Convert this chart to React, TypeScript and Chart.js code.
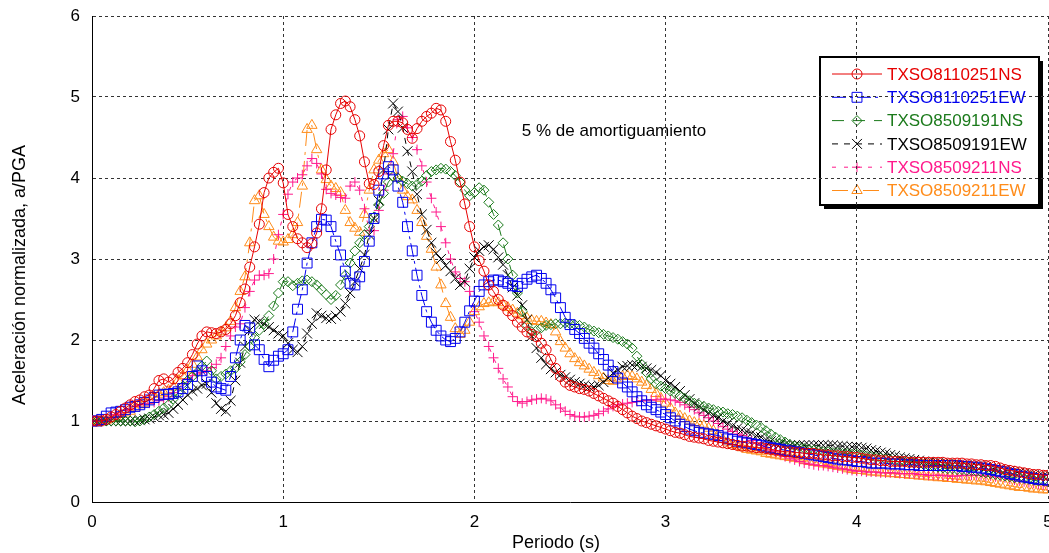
import React, { useEffect, useRef } from 'react';
import { Chart, registerables } from 'chart.js';
import { drawPoint } from 'chart.js/helpers';

Chart.register(...registerables);

const FONT = 'Arial, "Liberation Sans", Helvetica, sans-serif';

// Periods (s), one row = 0.2 s
const periods = [
  0, 0.025, 0.05, 0.075, 0.1, 0.125, 0.15, 0.175,
  0.2, 0.225, 0.25, 0.275, 0.3, 0.325, 0.35, 0.375,
  0.4, 0.425, 0.45, 0.475, 0.5, 0.525, 0.55, 0.575,
  0.6, 0.625, 0.65, 0.675, 0.7, 0.725, 0.75, 0.775,
  0.8, 0.825, 0.85, 0.875, 0.9, 0.925, 0.95, 0.975,
  1.0, 1.025, 1.05, 1.075, 1.1, 1.125, 1.15, 1.175,
  1.2, 1.225, 1.25, 1.275, 1.3, 1.325, 1.35, 1.375,
  1.4, 1.425, 1.45, 1.475, 1.5, 1.525, 1.55, 1.575,
  1.6, 1.625, 1.65, 1.675, 1.7, 1.725, 1.75, 1.775,
  1.8, 1.825, 1.85, 1.875, 1.9, 1.925, 1.95, 1.975,
  2.0, 2.025, 2.05, 2.075, 2.1, 2.125, 2.15, 2.175,
  2.2, 2.225, 2.25, 2.275, 2.3, 2.325, 2.35, 2.375,
  2.4, 2.425, 2.45, 2.475, 2.5, 2.525, 2.55, 2.575,
  2.6, 2.625, 2.65, 2.675, 2.7, 2.725, 2.75, 2.775,
  2.8, 2.825, 2.85, 2.875, 2.9, 2.925, 2.95, 2.975,
  3.0, 3.025, 3.05, 3.075, 3.1, 3.125, 3.15, 3.175,
  3.2, 3.225, 3.25, 3.275, 3.3, 3.325, 3.35, 3.375,
  3.4, 3.425, 3.45, 3.475, 3.5, 3.525, 3.55, 3.575,
  3.6, 3.625, 3.65, 3.675, 3.7, 3.725, 3.75, 3.775,
  3.8, 3.825, 3.85, 3.875, 3.9, 3.925, 3.95, 3.975,
  4.0, 4.025, 4.05, 4.075, 4.1, 4.125, 4.15, 4.175,
  4.2, 4.225, 4.25, 4.275, 4.3, 4.325, 4.35, 4.375,
  4.4, 4.425, 4.45, 4.475, 4.5, 4.525, 4.55, 4.575,
  4.6, 4.625, 4.65, 4.675, 4.7, 4.725, 4.75, 4.775,
  4.8, 4.825, 4.85, 4.875, 4.9, 4.925, 4.95, 4.975,
  5.0,
];

const txso8110251NS = [
  1.0, 1.0, 1.0, 1.02, 1.05, 1.08, 1.12, 1.16,
  1.2, 1.24, 1.26, 1.3, 1.32, 1.4, 1.5, 1.52,
  1.48, 1.52, 1.6, 1.65, 1.72, 1.82, 1.95, 2.05,
  2.1, 2.09, 2.08, 2.1, 2.13, 2.2, 2.3, 2.46,
  2.63, 2.9, 3.15, 3.43, 3.82, 4.0, 4.07, 4.12,
  3.94, 3.55, 3.4, 3.25, 3.2, 3.14, 3.19, 3.32,
  3.62, 4.1, 4.6, 4.78, 4.92, 4.95, 4.88, 4.72,
  4.52, 4.2, 3.93, 3.92, 4.08, 4.4, 4.65, 4.7,
  4.7, 4.68, 4.6, 4.49, 4.61, 4.7, 4.76, 4.8,
  4.86, 4.84, 4.7, 4.45, 4.22, 3.95, 3.68, 3.4,
  3.15, 2.98, 2.85, 2.68, 2.6, 2.5, 2.43, 2.36,
  2.3, 2.22, 2.16, 2.1, 2.07, 2.04, 1.96, 1.88,
  1.76, 1.65, 1.55, 1.48, 1.44, 1.42, 1.4, 1.39,
  1.37, 1.34, 1.31, 1.28, 1.25, 1.22, 1.18, 1.14,
  1.1, 1.06, 1.03, 1.0, 0.98, 0.96, 0.94, 0.92,
  0.9, 0.88, 0.86, 0.85, 0.83, 0.81, 0.8, 0.79,
  0.78, 0.76, 0.75, 0.74, 0.73, 0.72, 0.71, 0.7,
  0.69, 0.69, 0.68, 0.67, 0.67, 0.66, 0.65, 0.64,
  0.63, 0.62, 0.62, 0.61, 0.61, 0.6, 0.6, 0.6,
  0.59, 0.58, 0.58, 0.57, 0.57, 0.56, 0.56, 0.55,
  0.55, 0.54, 0.53, 0.52, 0.52, 0.51, 0.51, 0.5,
  0.5, 0.5, 0.5, 0.49, 0.49, 0.49, 0.49, 0.49,
  0.49, 0.49, 0.49, 0.48, 0.48, 0.48, 0.48, 0.47,
  0.47, 0.46, 0.46, 0.45, 0.45, 0.44, 0.42, 0.4,
  0.39, 0.38, 0.37, 0.36, 0.35, 0.34, 0.34, 0.33,
  0.33,
];

const txso8110251EW = [
  1.0, 1.0, 1.02, 1.06, 1.1, 1.11, 1.12, 1.14,
  1.17, 1.18, 1.2, 1.23, 1.26, 1.29, 1.32, 1.33,
  1.33, 1.34, 1.36, 1.4, 1.45, 1.55, 1.68, 1.62,
  1.55, 1.48, 1.42, 1.4, 1.38, 1.55, 1.78, 2.0,
  2.18, 2.15, 1.94, 1.88, 1.76, 1.67, 1.75, 1.8,
  1.83, 1.88, 2.1, 2.38, 2.62, 2.95, 3.2, 3.4,
  3.49, 3.48, 3.4, 3.22, 3.05, 2.85, 2.7, 2.68,
  2.78, 2.97, 3.22, 3.5, 3.85, 4.05, 4.14, 4.1,
  3.9, 3.7, 3.4, 3.1, 2.8, 2.55, 2.35, 2.22,
  2.12, 2.05, 2.0, 1.98, 2.02, 2.1, 2.22, 2.36,
  2.48, 2.6, 2.68, 2.72, 2.74, 2.74, 2.72, 2.7,
  2.67, 2.66, 2.7, 2.75, 2.78, 2.8, 2.76, 2.7,
  2.62, 2.52, 2.4, 2.28, 2.19, 2.13, 2.08, 2.02,
  1.96, 1.9, 1.83, 1.76, 1.69, 1.61, 1.53, 1.47,
  1.42, 1.36, 1.3, 1.25, 1.2, 1.17, 1.14, 1.11,
  1.08, 1.04, 1.0, 0.96, 0.93, 0.9, 0.88, 0.86,
  0.85, 0.84, 0.83, 0.82, 0.8, 0.78, 0.77, 0.75,
  0.74, 0.73, 0.72, 0.71, 0.7, 0.68, 0.67, 0.66,
  0.65, 0.64, 0.63, 0.62, 0.61, 0.6, 0.59, 0.58,
  0.57, 0.56, 0.55, 0.54, 0.53, 0.52, 0.52, 0.51,
  0.5, 0.5, 0.49, 0.48, 0.48, 0.48, 0.48, 0.47,
  0.47, 0.47, 0.46, 0.46, 0.46, 0.45, 0.45, 0.45,
  0.45, 0.45, 0.45, 0.45, 0.45, 0.45, 0.44, 0.44,
  0.43, 0.43, 0.42, 0.41, 0.4, 0.39, 0.38, 0.37,
  0.35, 0.34, 0.32, 0.31, 0.3, 0.29, 0.28, 0.28,
  0.27,
];

const txso8509191NS = [
  1.0, 1.0, 1.0, 1.0, 1.0, 1.0, 1.0, 1.0,
  1.0, 0.99, 1.0, 1.02, 1.05, 1.08, 1.12, 1.16,
  1.2, 1.27, 1.35, 1.43, 1.5, 1.55, 1.6, 1.68,
  1.74, 1.62, 1.52, 1.55, 1.58, 1.62, 1.65, 1.73,
  1.82, 1.92, 2.03, 2.12, 2.2, 2.3, 2.42, 2.58,
  2.72, 2.72, 2.67, 2.7, 2.73, 2.74, 2.72, 2.68,
  2.62, 2.56, 2.5, 2.55, 2.68, 2.8, 2.95, 3.1,
  3.2, 3.3, 3.4, 3.52, 3.67, 3.81, 3.95, 4.02,
  4.0, 3.96, 3.93, 3.9, 3.92, 3.96, 4.03, 4.08,
  4.1, 4.12, 4.11, 4.08, 4.03, 3.95, 3.85, 3.78,
  3.82, 3.88, 3.85, 3.7, 3.55, 3.42, 3.2, 3.0,
  2.8, 2.58, 2.35, 2.18, 2.1, 2.12, 2.15, 2.18,
  2.19, 2.2, 2.2, 2.21, 2.2, 2.19, 2.18, 2.16,
  2.13, 2.11, 2.09, 2.07, 2.05, 2.03, 2.01, 1.98,
  1.95, 1.9, 1.8, 1.7, 1.6, 1.52, 1.46, 1.43,
  1.4, 1.37, 1.34, 1.31, 1.28, 1.25, 1.22, 1.2,
  1.18, 1.16, 1.14, 1.12, 1.11, 1.09, 1.08, 1.06,
  1.04, 1.01, 0.98, 0.95, 0.92, 0.88, 0.84, 0.8,
  0.77, 0.74, 0.71, 0.69, 0.68, 0.66, 0.65, 0.64,
  0.63, 0.62, 0.62, 0.61, 0.61, 0.6, 0.6, 0.59,
  0.59, 0.58, 0.57, 0.56, 0.55, 0.54, 0.53, 0.52,
  0.51, 0.5, 0.5, 0.49, 0.48, 0.47, 0.46, 0.45,
  0.44, 0.43, 0.42, 0.41, 0.41, 0.4, 0.4, 0.39,
  0.39, 0.38, 0.37, 0.36, 0.35, 0.34, 0.33, 0.32,
  0.31, 0.3, 0.3, 0.29, 0.28, 0.27, 0.26, 0.26,
  0.25,
];

const txso8509191EW = [
  1.0, 1.0, 1.0, 1.0, 1.0, 1.0, 1.0, 1.0,
  1.0, 1.0, 1.01, 1.02, 1.03, 1.05, 1.07, 1.08,
  1.1, 1.15, 1.2, 1.26, 1.32, 1.37, 1.4, 1.44,
  1.46, 1.35, 1.22, 1.15, 1.12, 1.25, 1.5, 1.72,
  1.92, 2.12, 2.25, 2.23, 2.2, 2.16, 2.12, 2.08,
  2.05, 1.96, 1.88, 1.85, 1.92, 2.08, 2.2, 2.33,
  2.3, 2.27, 2.26, 2.3, 2.35, 2.45, 2.58, 2.72,
  2.88, 3.05, 3.3, 3.5, 3.72, 4.1, 4.6, 4.92,
  4.82, 4.62, 4.33, 4.08, 3.8, 3.55, 3.36, 3.2,
  3.07, 3.0, 2.92, 2.85, 2.76, 2.68, 2.72, 2.88,
  3.02, 3.1, 3.15, 3.17, 3.12, 3.02, 2.93, 2.8,
  2.65, 2.55, 2.43, 2.25, 2.05, 1.9, 1.78, 1.7,
  1.64, 1.6, 1.57, 1.54, 1.51, 1.48, 1.46, 1.44,
  1.42, 1.42, 1.44, 1.48, 1.53, 1.59, 1.63, 1.67,
  1.68, 1.69, 1.69, 1.67, 1.65, 1.63, 1.6, 1.56,
  1.5, 1.46, 1.42, 1.37, 1.32, 1.27, 1.22, 1.18,
  1.14, 1.1, 1.07, 1.04, 1.0, 0.97, 0.94, 0.91,
  0.89, 0.87, 0.85, 0.82, 0.8, 0.77, 0.75, 0.73,
  0.72, 0.71, 0.7, 0.7, 0.7, 0.7, 0.7, 0.7,
  0.7, 0.7, 0.7, 0.7, 0.69, 0.69, 0.68, 0.68,
  0.68, 0.67, 0.66, 0.64, 0.63, 0.61, 0.6, 0.58,
  0.57, 0.55, 0.54, 0.53, 0.52, 0.51, 0.5, 0.49,
  0.48, 0.48, 0.47, 0.47, 0.46, 0.46, 0.45, 0.45,
  0.44, 0.44, 0.44, 0.43, 0.42, 0.41, 0.4, 0.39,
  0.38, 0.37, 0.36, 0.35, 0.34, 0.33, 0.32, 0.32,
  0.31,
];

const txso8509211NS = [
  1.0, 1.0, 1.0, 1.02, 1.05, 1.08, 1.1, 1.13,
  1.15, 1.18, 1.2, 1.21, 1.22, 1.23, 1.25, 1.27,
  1.3, 1.35, 1.4, 1.46, 1.52, 1.56, 1.58, 1.6,
  1.62, 1.66, 1.7, 1.78, 1.92, 2.05, 2.16, 2.2,
  2.4, 2.6, 2.74, 2.8, 2.8, 2.82, 3.0, 3.3,
  3.55, 3.8, 3.95, 4.0, 4.04, 4.15, 4.24, 4.18,
  4.05, 3.86, 3.81, 3.79, 3.76, 3.75, 3.9, 3.95,
  3.85, 3.62, 3.35, 3.35, 3.6, 3.85, 4.05, 4.3,
  4.72, 4.76, 4.62, 4.5, 4.35, 4.15, 3.95, 3.75,
  3.58, 3.4, 3.2, 3.0, 2.84, 2.76, 2.72, 2.6,
  2.35, 2.22, 2.05, 1.92, 1.78, 1.65, 1.52, 1.42,
  1.3, 1.24, 1.22, 1.24, 1.26, 1.27, 1.28, 1.27,
  1.25, 1.2, 1.16, 1.12, 1.08, 1.06, 1.05, 1.05,
  1.06, 1.07, 1.09, 1.12, 1.15, 1.18, 1.2, 1.21,
  1.22, 1.23, 1.24, 1.25, 1.25, 1.26, 1.26, 1.27,
  1.27, 1.26, 1.25, 1.23, 1.2, 1.17, 1.14, 1.1,
  1.07, 1.04, 1.0, 0.97, 0.93, 0.9, 0.87, 0.84,
  0.82, 0.79, 0.76, 0.73, 0.7, 0.67, 0.64, 0.62,
  0.59, 0.56, 0.54, 0.52, 0.5, 0.48, 0.47, 0.46,
  0.45, 0.45, 0.44, 0.43, 0.42, 0.41, 0.4, 0.39,
  0.38, 0.38, 0.37, 0.37, 0.37, 0.36, 0.36, 0.36,
  0.36, 0.35, 0.35, 0.35, 0.35, 0.34, 0.34, 0.33,
  0.33, 0.33, 0.33, 0.32, 0.32, 0.32, 0.33, 0.33,
  0.33, 0.33, 0.33, 0.32, 0.32, 0.31, 0.31, 0.3,
  0.28, 0.27, 0.26, 0.25, 0.24, 0.23, 0.22, 0.21,
  0.2,
];

const txso8509211EW = [
  1.0, 1.0, 1.0, 1.01, 1.03, 1.05, 1.08, 1.1,
  1.12, 1.16, 1.2, 1.22, 1.25, 1.3, 1.33, 1.35,
  1.38, 1.42, 1.5, 1.56, 1.63, 1.7, 1.79, 1.88,
  1.95, 2.0, 2.05, 2.1, 2.15, 2.23, 2.4, 2.6,
  2.78, 3.2, 3.72, 3.78, 3.55, 3.4, 3.27, 3.22,
  3.21, 3.24, 3.3, 3.45, 3.9, 4.6, 4.65, 4.35,
  4.1, 3.98, 3.9, 3.87, 3.82, 3.6, 3.45, 3.38,
  3.33, 3.55, 3.85, 4.1, 4.22, 4.3, 4.35, 4.2,
  4.0, 3.85, 3.77, 3.73, 3.6, 3.45, 3.28, 3.12,
  2.9, 2.68, 2.45, 2.28, 2.14, 2.07, 2.12, 2.22,
  2.35, 2.41, 2.45, 2.46, 2.47, 2.46, 2.43, 2.4,
  2.37, 2.33, 2.3, 2.27, 2.24, 2.23, 2.23, 2.21,
  2.19, 2.1, 1.98, 1.9, 1.83, 1.77, 1.72, 1.68,
  1.64, 1.6, 1.56, 1.53, 1.5, 1.49, 1.52, 1.55,
  1.56, 1.55, 1.52, 1.48, 1.44, 1.39, 1.34, 1.28,
  1.22, 1.16, 1.1, 1.06, 1.03, 1.0, 0.98, 0.96,
  0.94, 0.91, 0.88, 0.83, 0.77, 0.74, 0.71, 0.69,
  0.67, 0.65, 0.64, 0.63, 0.62, 0.6, 0.59, 0.58,
  0.57, 0.56, 0.55, 0.54, 0.53, 0.51, 0.5, 0.49,
  0.48, 0.47, 0.46, 0.45, 0.44, 0.43, 0.41, 0.4,
  0.39, 0.39, 0.38, 0.37, 0.37, 0.36, 0.36, 0.35,
  0.35, 0.34, 0.34, 0.33, 0.33, 0.32, 0.32, 0.31,
  0.31, 0.3, 0.3, 0.29, 0.29, 0.28, 0.28, 0.27,
  0.27, 0.26, 0.26, 0.25, 0.24, 0.23, 0.22, 0.21,
  0.2, 0.19, 0.18, 0.18, 0.17, 0.16, 0.16, 0.15,
  0.15,
];

const seriesNames = [
  'TXSO8110251NS',
  'TXSO8110251EW',
  'TXSO8509191NS',
  'TXSO8509191EW',
  'TXSO8509211NS',
  'TXSO8509211EW',
];
const seriesValues = [
  txso8110251NS,
  txso8110251EW,
  txso8509191NS,
  txso8509191EW,
  txso8509211NS,
  txso8509211EW,
];

const xTicks = [0, 1, 2, 3, 4, 5];
const yTicks = [0, 1, 2, 3, 4, 5, 6];

const xTitle = 'Periodo (s)';
const yTitle = 'Aceleración normalizada, a/PGA';
const annotationText = '5 % de amortiguamiento';

const styles = [
  { color: '#e60000', point: 'circle', radius: 5, dash: [] as number[] },
  { color: '#0000ee', point: 'rect', radius: 7, dash: [14, 4, 3, 4] },
  { color: '#1b7a1b', point: 'rectRot', radius: 5, dash: [12, 9] },
  { color: '#000000', point: 'crossRot', radius: 7, dash: [6, 6] },
  { color: '#ff1a8c', point: 'cross', radius: 5, dash: [4, 8] },
  { color: '#ff8c1a', point: 'triangle', radius: 6, dash: [16, 6, 3, 6] },
];

const TARGET_RIGHT = 1048;

const boxLegendPlugin = {
  id: 'boxLegend',
  beforeDraw(chart: any) {
    const ctx: CanvasRenderingContext2D = chart.ctx;
    const x0 = 820;
    const y0 = 57;
    const w = 219;
    const h = 148;
    ctx.save();
    ctx.fillStyle = '#000';
    ctx.fillRect(x0 + 4, y0 + 4, w, h);
    ctx.fillStyle = '#fff';
    ctx.fillRect(x0, y0, w, h);
    ctx.lineWidth = 2;
    ctx.strokeStyle = '#000';
    ctx.strokeRect(x0, y0, w, h);
    chart.data.datasets.forEach((ds: any, i: number) => {
      const y = y0 + 17 + i * 23.3;
      ctx.lineWidth = 1;
      ctx.strokeStyle = ds.borderColor;
      ctx.setLineDash(ds.borderDash || []);
      ctx.beginPath();
      ctx.moveTo(832, y);
      ctx.lineTo(882, y);
      ctx.stroke();
      ctx.setLineDash([]);
      ctx.fillStyle = 'rgba(0,0,0,0)';
      drawPoint(ctx, { pointStyle: ds.pointStyle, radius: ds.pointRadius, borderWidth: 1, rotation: 0 } as any, 857, y);
      ctx.fillStyle = ds.borderColor;
      ctx.font = `17px ${FONT}`;
      ctx.textBaseline = 'middle';
      ctx.textAlign = 'left';
      ctx.fillText(ds.label, 887, y + 1);
    });
    ctx.restore();
  },
  afterDraw(chart: any) {
    const ctx: CanvasRenderingContext2D = chart.ctx;
    const xs = chart.scales.x;
    const ys = chart.scales.y;
    ctx.save();
    ctx.fillStyle = '#000';
    ctx.font = `17px ${FONT}`;
    ctx.textAlign = 'center';
    ctx.textBaseline = 'middle';
    ctx.fillText(annotationText, xs.getPixelForValue(2.73), ys.getPixelForValue(4.58));
    // axis titles
    ctx.font = `18px ${FONT}`;
    ctx.fillText(xTitle, 556, 543);
    ctx.translate(20, 275);
    ctx.rotate(-Math.PI / 2);
    ctx.fillText(yTitle, 0, 0);
    ctx.restore();
  },
};

export default function App() {
  const ref = useRef<HTMLCanvasElement>(null);
  useEffect(() => {
    if (!ref.current) return;
    const datasets = seriesValues.map((vals, i) => ({
      label: seriesNames[i],
      data: periods.map((t, j) => ({ x: t, y: vals[j] })),
      borderColor: styles[i].color,
      backgroundColor: 'rgba(0,0,0,0)',
      borderWidth: 1,
      borderDash: styles[i].dash,
      pointStyle: styles[i].point,
      pointRadius: styles[i].radius,
      pointBorderWidth: 1,
      pointBorderColor: styles[i].color,
      pointBackgroundColor: 'rgba(0,0,0,0)',
      tension: 0,
      fill: false,
    }));
    const tickFont = { family: FONT, size: 17 };
    const chart = new Chart(ref.current, {
      type: 'line',
      data: { datasets: datasets as any },
      options: {
        animation: false,
        responsive: false,
        maintainAspectRatio: false,
        events: [],
        layout: { padding: { left: 0, right: 1, top: 16, bottom: 0 } },
        plugins: { legend: { display: false }, tooltip: { enabled: false } },
        scales: {
          x: {
            type: 'linear',
            min: 0,
            max: 5,
            afterBuildTicks: (s: any) => { s.ticks = xTicks.map((v) => ({ value: v })); },
            afterFit: (s: any) => { s.height = 51; s.paddingLeft = 0; s.paddingRight = 0; },
            ticks: { padding: 10, font: tickFont, color: '#000', maxRotation: 0 },
            grid: { color: '#333', lineWidth: 1, drawTicks: false },
            border: { display: true, color: '#000', width: 1, dash: [3, 3] },
          },
          y: {
            type: 'linear',
            min: 0,
            max: 6,
            afterBuildTicks: (s: any) => { s.ticks = yTicks.map((v) => ({ value: v })); },
            afterFit: (s: any) => { s.width = 92; s.paddingTop = 0; s.paddingBottom = 0; },
            ticks: { padding: 12, font: tickFont, color: '#000' },
            grid: { color: '#333', lineWidth: 1, drawTicks: false },
            border: { display: true, color: '#000', width: 1, dash: [3, 3] },
          },
        },
      },
      plugins: [boxLegendPlugin],
    } as any);
    const extra = Math.round(TARGET_RIGHT - chart.chartArea.right);
    if (extra !== 0) {
      chart.resize(1049 + extra, 553);
    }
    return () => chart.destroy();
  }, []);
  return (
    <div style={{ position: 'fixed', left: 0, top: 0, width: 1049, height: 553, overflow: 'hidden', background: '#fff' }}>
      <canvas ref={ref} width={1049} height={553} style={{ display: 'block', width: 1049, height: 553 }} />
    </div>
  );
}
